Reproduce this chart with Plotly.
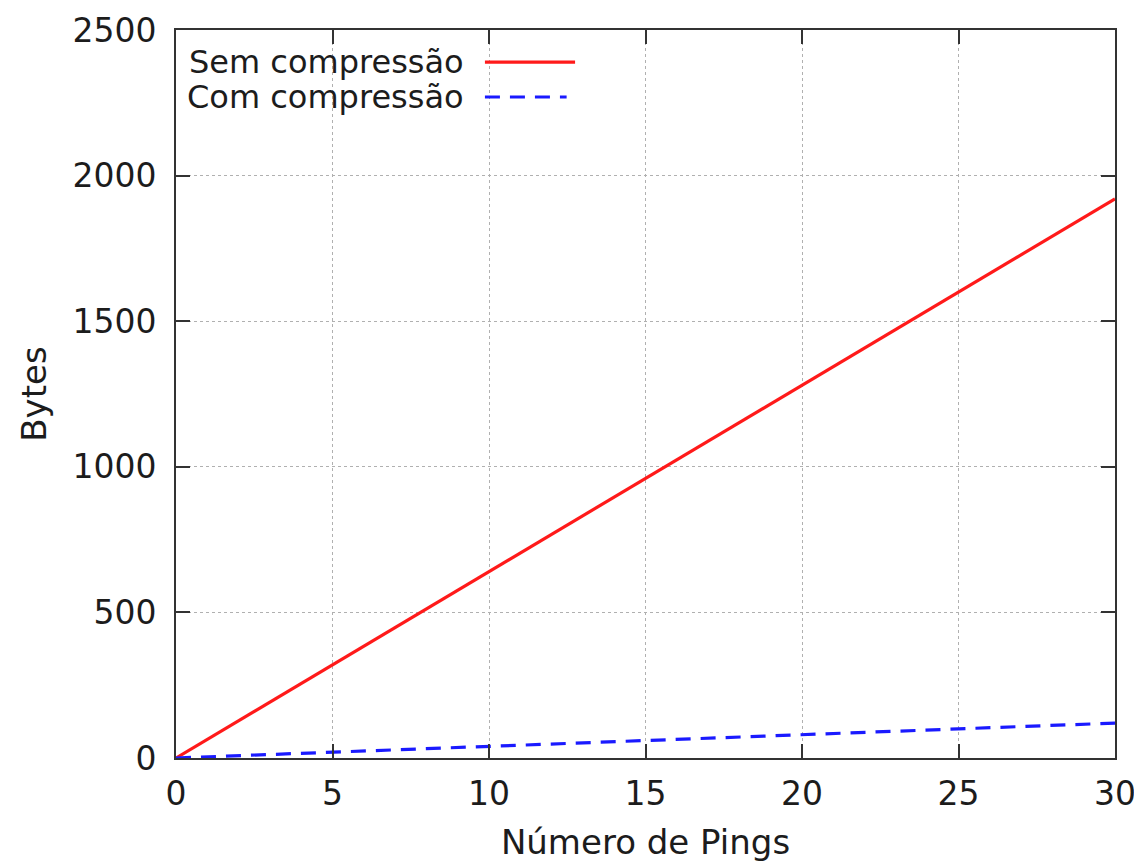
import plotly.graph_objects as go

pings = list(range(0, 31))
sem_compressao = [0, 64, 128, 192, 256, 320, 384, 448, 512, 576, 640, 704, 768, 832, 896, 960,
                  1024, 1088, 1152, 1216, 1280, 1344, 1408, 1472, 1536, 1600, 1664, 1728, 1792, 1856, 1920]
com_compressao = [0, 4, 8, 12, 16, 20, 24, 28, 32, 36, 40, 44, 48, 52, 56, 60,
                  64, 68, 72, 76, 80, 84, 88, 92, 96, 100, 104, 108, 112, 116, 120]
names = ["Sem compressão", "Com compressão"]
x_ticks = [0, 5, 10, 15, 20, 25, 30]
y_ticks = [0, 500, 1000, 1500, 2000, 2500]

FONT = "DejaVu Sans"
TXT = "#1c1c1c"
fig = go.Figure()
fig.add_trace(go.Scatter(x=pings, y=sem_compressao, mode="lines", name=names[0],
                         line=dict(color="#ff1a1a", width=3.2), showlegend=False))
fig.add_trace(go.Scatter(x=pings, y=com_compressao, mode="lines", name=names[1],
                         line=dict(color="#1a1aff", width=3.2, dash="15px,10px"), showlegend=False))

axis_common = dict(
    showline=True, linecolor="#333333", linewidth=2, mirror="allticks",
    ticks="inside", ticklen=14, tickwidth=1.5, tickcolor="#333333",
    showgrid=True, gridcolor="#b0b0b0", gridwidth=1, griddash="dot",
    zeroline=False, automargin=False, tickfont=dict(family=FONT, size=33, color=TXT),
    title_font=dict(family=FONT, size=34, color=TXT),
)
fig.update_xaxes(range=[0, 30], tickvals=x_ticks, title_text="Número de Pings",
                 title_standoff=19, ticklabelstandoff=5, **axis_common)
fig.update_yaxes(range=[0, 2500], tickvals=y_ticks, title_text="Bytes",
                 title_standoff=16, ticklabelstandoff=11, **axis_common)

# gnuplot-style legend: text right-aligned, sample to the right
legend_rows = [(names[0], "#ff1a1a", "solid", 0.956, 0.425), (names[1], "#1a1aff", "15px,10px", 0.908, 0.416)]
for label, color, dash, yp, xend in legend_rows:
    fig.add_annotation(x=0.309, y=yp, xref="paper", yref="paper", text=label,
                       showarrow=False, xanchor="right", yanchor="middle",
                       font=dict(family=FONT, size=32, color=TXT))
    fig.add_shape(type="line", xref="paper", yref="paper", x0=0.329, x1=xend, y0=yp, y1=yp,
                  line=dict(color=color, width=3.2, dash=dash))

fig.update_layout(
    width=1142, height=862,
    margin=dict(l=168, r=35, t=22, b=112),
    plot_bgcolor="white", paper_bgcolor="white",
)
fig.write_html("out.html")
